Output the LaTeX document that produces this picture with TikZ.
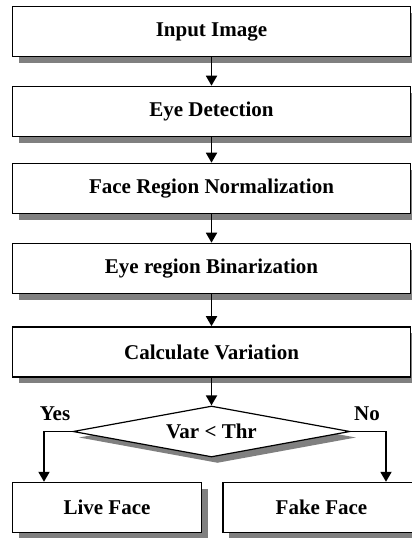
\documentclass[tikz,border=0pt]{standalone}
\usepackage{fontspec}
\setmainfont{Liberation Serif}
\usetikzlibrary{shapes.geometric,shadows,arrows.meta}
\begin{document}
\begin{tikzpicture}[x=1pt,y=-1pt,
  font=\bfseries\fontsize{21}{25}\selectfont,
  shadowed/.style={drop shadow={shadow xshift=6pt,shadow yshift=-6pt,fill=gray,opacity=1}},
  procbox/.style={draw=black,line width=1.6pt,fill=white,rectangle,inner sep=0pt,
     minimum width=398pt,minimum height=50pt,shadowed},
  endbox/.style={draw=black,line width=1.4pt,fill=white,rectangle,inner sep=0pt,
     minimum height=50pt,shadowed},
  decision/.style={draw=black,line width=1.2pt,fill=white,diamond,inner sep=0pt,
     aspect=5.4,minimum width=277pt,minimum height=51pt,shadowed},
  arr/.style={line width=1.8pt,-{Triangle[width=11pt,length=10pt]}},
  lbl/.style={inner sep=0pt}]
\useasboundingbox (0,0) rectangle (412,538);
\node[procbox] (b1) at (211.5,31.5) {Input Image};
\node[procbox] (b2) at (211.5,111.5) {Eye Detection};
\node[procbox] (b3) at (211.5,188.5) {Face Region Normalization};
\node[procbox] (b4) at (211.5,268.5) {Eye region Binarization};
\node[procbox] (b5) at (211.5,352) {Calculate Variation};
\node[decision] (d) at (211.5,431.5) {Var < Thr};
\node[endbox,minimum width=189pt] (live) at (107,507.5) {Live Face};
\node[endbox,minimum width=197pt] (fake) at (321.5,507.5) {Fake Face};
\node[lbl] (yes) at (55,414) {Yes};
\node[lbl] (no) at (367,414) {No};
\coordinate (yx) at (44,0);
\coordinate (nx) at (386,0);
\draw[arr] (b1.south) -- (b2.north);
\draw[arr] (b2.south) -- (b3.north);
\draw[arr] (b3.south) -- (b4.north);
\draw[arr] (b4.south) -- (b5.north);
\draw[arr] (b5.south) -- (d.north);
\draw[arr] (d.west) -| (live.north -| yx);
\draw[arr] (d.east) -| (fake.north -| nx);
\end{tikzpicture}
\end{document}
